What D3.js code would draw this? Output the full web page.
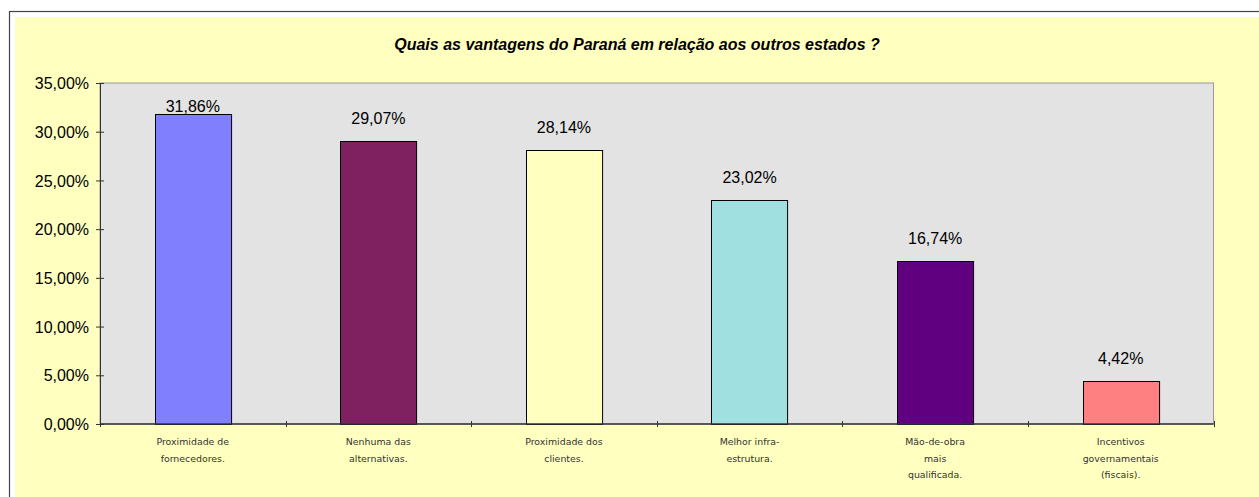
<!DOCTYPE html>
<html lang="en">
<head>
<meta charset="utf-8">
<script src="https://d3js.org/d3.v7.min.js"></script>
<style>
  body { margin: 0; background: #fff; }
  .ytick text { font-family: Arial, "Liberation Sans", sans-serif; font-size: 16px; fill: #000; }
  .cat { font-family: "DejaVu Sans", sans-serif; font-size: 9.4px; fill: #333; }
  .val { font-family: Arial, "Liberation Sans", sans-serif; font-size: 16px; fill: #000; }
</style>
</head>
<body>
<script>
  var categories = [
    ["Proximidade de", "fornecedores."],
    ["Nenhuma das", "alternativas."],
    ["Proximidade dos", "clientes."],
    ["Melhor infra-", "estrutura."],
    ["Mão-de-obra", "mais", "qualificada."],
    ["Incentivos", "governamentais", "(fiscais)."]
  ];
  var values = [31.86, 29.07, 28.14, 23.02, 16.74, 4.42];
  var colors = ["#8080ff", "#7f2060", "#ffffc0", "#a0e0e0", "#600080", "#ff8080"];
  var yTicks = [0, 5, 10, 15, 20, 25, 30, 35];
  var title = "Quais as vantagens do Paraná em relação aos outros estados ?";

  var width = 1259, height = 497;
  var plot = {left: 100, top: 83, right: 1213.5, bottom: 424};

  var svg = d3.select("body").append("svg")
    .attr("width", width)
    .attr("height", height);

  // outer frame
  svg.append("rect").attr("x", 9.5).attr("y", 11.5)
    .attr("width", width).attr("height", height)
    .attr("fill", "#fff").attr("stroke", "#444").attr("stroke-width", 1.2);
  svg.append("rect").attr("x", 15).attr("y", 17)
    .attr("width", width).attr("height", height)
    .attr("fill", "#ffffc0");

  svg.append("text")
    .attr("x", 637).attr("y", 50)
    .attr("text-anchor", "middle")
    .style("font-family", "Arial, 'Liberation Sans', sans-serif")
    .style("font-size", "16px")
    .style("font-weight", "bold")
    .style("font-style", "italic")
    .text(title);

  var x = d3.scaleBand()
    .domain(d3.range(categories.length))
    .range([plot.left, plot.right])
    .paddingInner(0.59).paddingOuter(0.295);

  var xOuter = d3.scaleBand()
    .domain(d3.range(categories.length))
    .range([plot.left, plot.right]);

  var y = d3.scaleLinear().domain([0, 35]).range([plot.bottom, plot.top]);

  // plot area
  svg.append("rect")
    .attr("x", plot.left).attr("y", plot.top)
    .attr("width", plot.right - plot.left).attr("height", plot.bottom - plot.top)
    .attr("fill", "#e3e3e3").attr("stroke", "#9a9a9a").attr("stroke-width", 1);

  // bars
  svg.selectAll("rect.bar")
    .data(values)
    .enter().append("rect")
    .attr("class", "bar")
    .attr("x", function(d, i) { return Math.round(x(i)) + 0.5; })
    .attr("y", function(d) { return Math.round(y(d)) + 0.5; })
    .attr("width", x.bandwidth())
    .attr("height", function(d) { return Math.round(y(0)) - Math.round(y(d)); })
    .attr("fill", function(d, i) { return colors[i]; })
    .attr("stroke", "#000").attr("stroke-width", 1);

  // value labels
  svg.selectAll("text.val")
    .data(values)
    .enter().append("text")
    .attr("class", "val")
    .attr("x", function(d, i) { return x(i) + x.bandwidth() / 2; })
    .attr("y", function(d) { return Math.max(y(d) - 17, y(35) + 29); })
    .attr("text-anchor", "middle")
    .text(function(d) { return d.toFixed(2).replace(".", ",") + "%"; });

  // y axis
  var yAxis = d3.axisLeft(y)
    .tickValues(yTicks)
    .tickSize(4)
    .tickPadding(8)
    .tickFormat(function(d) { return d.toFixed(2).replace(".", ",") + "%"; });

  var gy = svg.append("g")
    .attr("class", "ytick")
    .attr("transform", "translate(" + plot.left + ",0)")
    .call(yAxis);
  gy.select(".domain").attr("stroke", "#333");
  gy.selectAll(".tick line").attr("x2", 4).attr("x1", -4).attr("stroke", "#333");
  gy.selectAll(".tick text").attr("x", -11).attr("dy", "0.35em");

  // x axis line and boundary ticks
  svg.append("line")
    .attr("x1", plot.left).attr("x2", plot.right)
    .attr("y1", plot.bottom).attr("y2", plot.bottom)
    .attr("stroke", "#333").attr("stroke-width", 1.5);

  var bounds = d3.range(categories.length + 1).map(function(i) {
    return i < categories.length ? xOuter(i) : plot.right;
  });
  svg.selectAll("line.xt")
    .data(bounds)
    .enter().append("line")
    .attr("x1", function(d) { return Math.round(d) + 0.5; })
    .attr("x2", function(d) { return Math.round(d) + 0.5; })
    .attr("y1", plot.bottom - 3).attr("y2", plot.bottom + 3)
    .attr("stroke", "#333");

  // category labels
  var cats = svg.selectAll("text.cat")
    .data(categories)
    .enter().append("text")
    .attr("class", "cat")
    .attr("text-anchor", "middle")
    .attr("x", function(d, i) { return xOuter(i) + xOuter.bandwidth() / 2; })
    .attr("y", 445);
  cats.selectAll("tspan")
    .data(function(d) { return d; })
    .enter().append("tspan")
    .attr("x", function() { return d3.select(this.parentNode).attr("x"); })
    .attr("dy", function(d, i) { return i === 0 ? 0 : 16.5; })
    .text(function(d) { return d; });
</script>
</body>
</html>
